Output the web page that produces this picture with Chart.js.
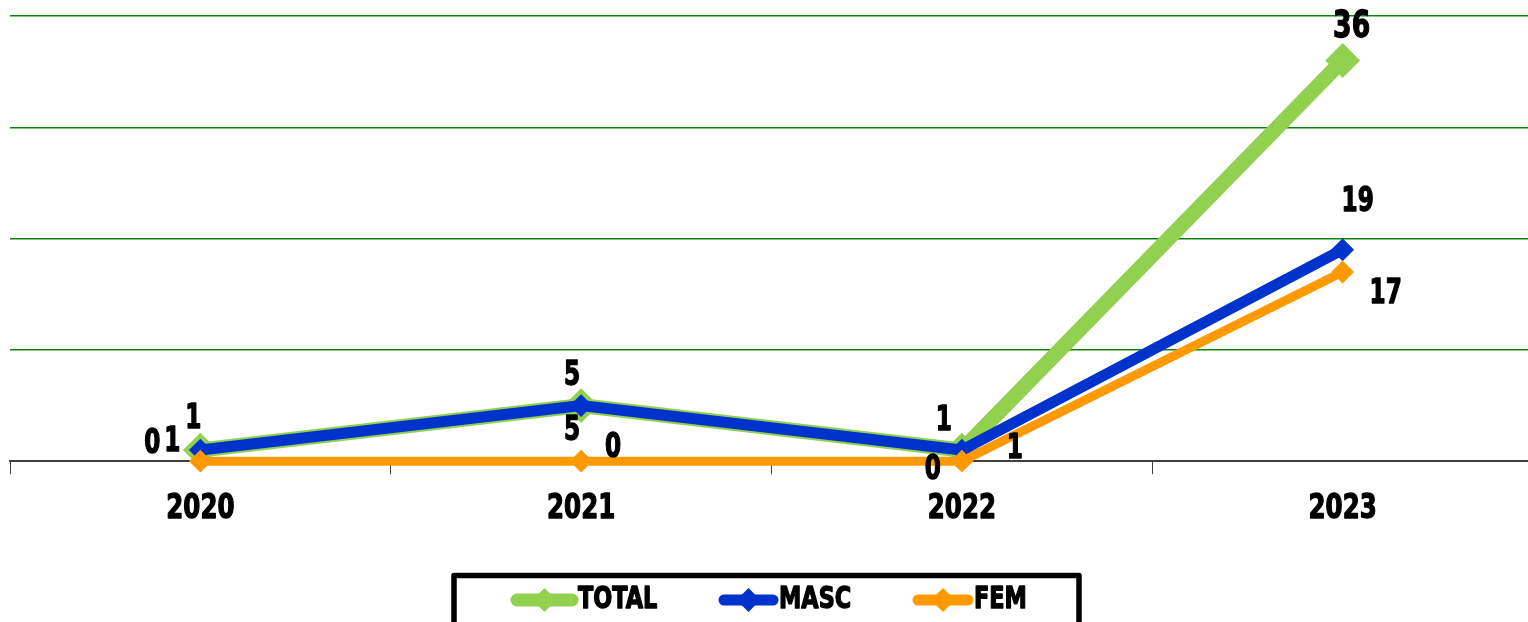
<!DOCTYPE html>
<html lang="es">
<head>
<meta charset="UTF-8">
<title>TOTAL / MASC / FEM</title>
<script src="https://cdn.jsdelivr.net/npm/chart.js"></script>
<style>
  body { margin: 0; background: #fff; overflow: hidden; }
</style>
</head>
<body>
<!-- el área del gráfico continúa un poco más allá del borde derecho -->
<canvas id="myChart" width="1533" height="622"></canvas>
<script>
// datos
const years = ['2020', '2021', '2022', '2023'];
const totalValues = [1, 5, 1, 36];
const mascValues = [1, 5, 1, 19];
const femValues = [0, 0, 0, 17];
const yTicks = [0, 10, 20, 30, 40];

const FONT = '"DejaVu Sans Condensed", "DejaVu Sans", sans-serif';

// desplazamiento de cada etiqueta respecto a su punto (px)
const labelOffsets = [
    [[-7, -31], [-9, -29], [-18, -29], [9, -33]],   // TOTAL
    [[-28, -8], [-9, 26], [53, -1], [15, -47]],     // MASC
    [[-48, -17], [32, -13], [-29, 9], [43, 22]]     // FEM
];

// texto estrecho y grueso: la fuente original es muy condensada
function narrowText(ctx, text, x, y, size, sx, align) {
    ctx.save();
    ctx.font = 'bold ' + size + 'px ' + FONT;
    ctx.textAlign = align || 'center';
    ctx.textBaseline = 'middle';
    ctx.translate(x, y);
    ctx.scale(sx, 1);
    ctx.lineWidth = 1.3;
    ctx.strokeStyle = ctx.fillStyle;
    ctx.lineJoin = 'round';
    ctx.strokeText(text, 0, 0);
    ctx.fillText(text, 0, 0);
    ctx.restore();
}

// etiquetas de valor y etiquetas del eje x
const valueLabels = {
    id: 'valueLabels',
    afterDatasetsDraw(chart) {
        const ctx = chart.ctx;
        ctx.fillStyle = '#000';
        chart.data.datasets.forEach((ds, i) => {
            const meta = chart.getDatasetMeta(i);
            meta.data.forEach((pt, j) => {
                const off = labelOffsets[i][j];
                const size = ds.data[j] >= 30 ? 38 : 33;
                narrowText(ctx, String(ds.data[j]), pt.x + off[0], pt.y + off[1], size, 0.78);
            });
        });
        const xs = chart.scales.x;
        chart.data.labels.forEach((lab, i) => {
            narrowText(ctx, lab, xs.getPixelForTick(i), xs.top + 48, 34, 0.8);
        });
    }
};

// leyenda en caja con borde negro
const boxLegend = {
    id: 'boxLegend',
    afterDraw(chart) {
        const ctx = chart.ctx;
        ctx.save();
        ctx.lineWidth = 5.5;
        ctx.strokeStyle = '#000';
        ctx.lineJoin = 'round';
        ctx.strokeRect(454, 575.5, 625, 70);

        const starts = [511, 718, 912];
        const ends = [578, 779, 974];
        const widths = [13, 11, 11];
        const y = 600;
        chart.data.datasets.forEach((ds, i) => {
            const a = starts[i], b = ends[i], m = (a + b) / 2;
            ctx.strokeStyle = ds.borderColor;
            ctx.lineWidth = widths[i];
            ctx.lineCap = 'round';
            ctx.beginPath();
            ctx.moveTo(a + 6, y);
            ctx.lineTo(b - 6, y);
            ctx.stroke();
            ctx.fillStyle = ds.borderColor;
            ctx.beginPath();
            ctx.moveTo(m, y - 12);
            ctx.lineTo(m + 12, y);
            ctx.lineTo(m, y + 12);
            ctx.lineTo(m - 12, y);
            ctx.closePath();
            ctx.fill();
            ctx.fillStyle = '#000';
            narrowText(ctx, ds.label, b, y, 30, 0.83, 'left');
        });
        ctx.restore();
    }
};

function lineSet(label, data, color, width, radius, order) {
    return {
        label: label,
        data: data,
        borderColor: color,
        backgroundColor: color,
        borderWidth: width,
        pointStyle: 'rectRot',
        pointRadius: radius,
        pointBorderWidth: 2,
        pointBorderColor: color,
        pointBackgroundColor: color,
        tension: 0,
        clip: false,
        order: order
    };
}

const ctx = document.getElementById('myChart').getContext('2d');
const myChart = new Chart(ctx, {
    type: 'line',
    data: {
        labels: years,
        datasets: [
            lineSet('TOTAL', totalValues, '#92D050', 15, 16, 3),
            lineSet('MASC', mascValues, '#0033CC', 11, 10, 2),
            lineSet('FEM', femValues, '#FF9900', 9, 10, 1)
        ]
    },
    options: {
        responsive: false,
        animation: false,
        layout: { autoPadding: false, padding: { left: 10, right: 0, top: 16, bottom: 79 } },
        plugins: {
            legend: { display: false },
            tooltip: { enabled: false }
        },
        scales: {
            x: {
                offset: true,
                grid: {
                    offset: true,
                    drawOnChartArea: false,
                    tickLength: 13,
                    color: '#404040'
                },
                border: { color: '#404040', width: 2 },
                ticks: {
                    color: 'rgba(0,0,0,0)',
                    padding: 14,
                    font: { family: FONT, size: 34, weight: 'bold' }
                }
            },
            y: {
                min: yTicks[0],
                max: yTicks[yTicks.length - 1],
                afterBuildTicks(scale) {
                    scale.ticks = yTicks.map(v => ({ value: v }));
                },
                ticks: { display: false },
                border: { display: false },
                grid: { color: '#0A870A', lineWidth: 1.5, drawTicks: false }
            }
        }
    },
    plugins: [valueLabels, boxLegend]
});
</script>
</body>
</html>
